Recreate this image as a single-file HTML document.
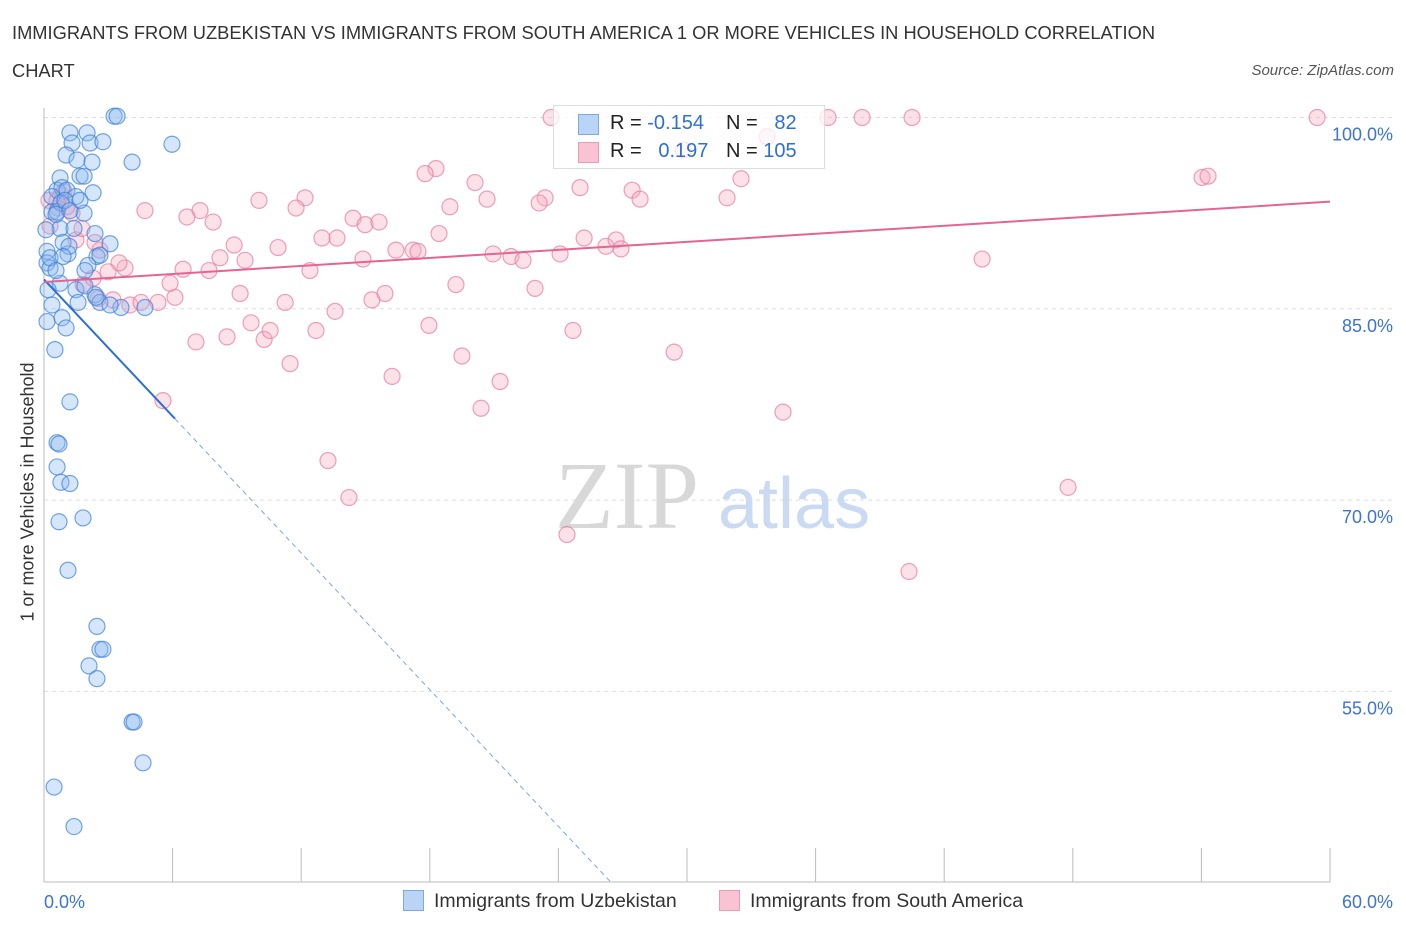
<!DOCTYPE html>
<html><head><meta charset="utf-8"><style>
body{margin:0;background:#fff;font-family:"Liberation Sans",sans-serif;}
#wrap{position:relative;width:1406px;height:930px;overflow:hidden;}
.t{position:absolute;white-space:nowrap;}
</style></head><body>
<div id="wrap">
<div class="t" style="left:12px;top:14px;font-size:18.3px;color:#333;line-height:38px;width:1180px;white-space:normal">IMMIGRANTS FROM UZBEKISTAN VS IMMIGRANTS FROM SOUTH AMERICA 1 OR MORE VEHICLES IN HOUSEHOLD CORRELATION CHART</div>
<div class="t" style="right:12px;top:62px;font-size:15px;font-style:italic;color:#555">Source: ZipAtlas.com</div>
<div class="t" style="left:28px;top:492px;font-size:18px;color:#333;transform:translate(-50%,-50%) rotate(-90deg)">1 or more Vehicles in Household</div>
<svg id="svg" width="1406" height="930" style="position:absolute;left:0;top:0"></svg>
</div>
<script>
const xTicks=[0,60];
const yTicks=[100,85,70,55];
const blueX=[3.27,3.41,1.21,2.01,1.31,2.15,2.75,1.03,1.54,2.24,4.11,5.97,1.68,1.87,0.75,0.61,0.84,1.07,1.49,0.37,0.37,0.61,1.87,0.75,1.40,2.38,3.08,0.89,0.14,0.14,0.28,1.12,2.47,2.61,2.05,1.91,2.38,0.75,1.49,0.37,1.59,3.59,4.71,0.14,0.84,1.03,0.51,1.21,0.61,0.70,0.61,0.79,1.21,0.70,1.82,1.12,2.47,2.61,2.75,2.10,2.47,4.11,4.20,4.62,0.47,1.40,0.79,0.56,0.98,1.17,0.28,2.61,0.19,1.68,0.09,3.08,2.43,1.91,1.21,2.29,0.89,0.56];
const blueY=[100.1,100.1,98.8,98.8,98.0,98.0,98.1,97.06,96.67,96.5,96.5,97.9,95.4,95.4,95.26,94.3,94.5,94.3,93.8,93.8,92.6,92.6,92.5,91.3,91.3,90.9,90.1,90.2,89.5,88.6,88.2,89.3,89.1,89.2,88.4,88.0,86.1,87.0,86.5,85.3,85.5,85.1,85.1,84.0,84.3,83.5,81.8,77.7,74.5,74.4,72.6,71.4,71.3,68.3,68.6,64.5,60.1,58.3,58.3,57.0,56.0,52.6,52.6,49.4,47.5,44.4,93.3,92.4,93.5,89.9,89.0,85.5,86.5,93.5,91.2,85.3,85.9,86.8,92.7,94.1,89.1,88.0];
const pinkX=[23.66,36.58,38.17,40.50,59.40,33.74,29.82,18.29,17.78,20.11,25.01,27.44,32.52,54.03,54.31,20.67,27.81,31.87,23.38,23.10,10.03,12.18,11.76,4.71,7.28,6.67,7.89,18.94,14.42,14.98,15.63,13.67,12.97,8.87,8.21,9.38,10.92,18.43,25.20,26.22,26.69,26.92,20.95,21.79,22.35,24.08,16.42,17.22,17.45,14.88,6.49,3.78,3.50,7.70,12.41,2.61,1.49,1.77,1.31,1.07,0.79,0.23,0.65,0.28,1.82,2.29,2.52,3.22,4.01,4.53,5.32,6.11,9.15,11.25,13.58,15.30,15.91,19.22,22.91,9.66,7.09,8.54,10.27,10.55,12.69,17.96,24.68,29.40,11.48,19.50,16.24,21.28,20.39,34.48,5.55,13.25,14.23,24.40,40.36,47.78,43.77,5.88,2.99,2.38,0.61,0.93];
const pinkY=[100,100,100,100,100,98.5,97.45,96.0,95.6,94.9,94.5,94.3,95.2,95.3,95.4,93.6,93.6,93.7,93.7,93.3,93.5,93.7,92.9,92.7,92.7,92.2,91.8,93.0,92.1,91.6,91.8,90.55,90.55,90.0,89.0,88.8,89.8,90.9,90.55,89.9,90.4,89.7,89.3,89.1,88.8,89.3,89.6,89.6,89.5,88.9,88.1,88.2,88.6,88.0,88.0,89.6,90.4,91.3,92.5,93.0,93.9,93.5,92.9,91.5,86.9,87.4,85.8,85.7,85.3,85.5,85.5,85.9,86.2,85.5,84.8,85.7,86.2,86.9,86.6,83.9,82.4,82.8,82.6,83.3,83.3,83.7,83.3,81.6,80.7,81.3,79.7,79.3,77.2,76.9,77.8,73.1,70.2,67.3,64.4,71.0,88.9,87.0,87.9,90.2,93.5,94.2];
const blueTrend=[87.3,-1.787];
const pinkTrend=[87.1,0.105];
const blueSolidEnd=6.11, blueDashEnd=26.41;

const X0=44,X1=1330,Y100=117.5,PX15=191.3;
const sx=v=>X0+(v-0)/60*(X1-X0);
const sy=v=>Y100+(100-v)/15*PX15;
const NS="http://www.w3.org/2000/svg";
const svg=document.getElementById('svg');
function mk(tag,attrs,parent){const e=document.createElementNS(NS,tag);for(const k in attrs)e.setAttribute(k,attrs[k]);(parent||svg).appendChild(e);return e;}
yTicks.forEach(t=>{
 const l=mk('line',{x1:X0,x2:1392,y1:sy(t),y2:sy(t),stroke:'#dddddd','stroke-dasharray':'4,4'});
 
 
 const tx=mk('text',{x:1393,y:sy(t)+23,'text-anchor':'end','font-size':18,fill:'#3b73d6','font-family':'Liberation Sans, sans-serif'});
 tx.textContent=t.toFixed(1)+'%';
 
 
});
const ax=mk('line',{x1:X0,x2:X0,y1:108,y2:882,stroke:'#bbb'});


const bx=mk('line',{x1:X0,x2:1330,y1:882,y2:882,stroke:'#bbb'});


for(let i=0;i<=10;i++){const x=X0+i*(X1-X0)/10;const tk=mk('line',{x1:x,x2:x,y1:848,y2:882,stroke:'#bbb'});
 
 }
xTicks.forEach((t,i)=>{const tx=mk('text',{x:i==0?sx(t):1393,y:908,'text-anchor':i==0?'start':'end','font-size':18,fill:'#3b73d6','font-family':'Liberation Sans, sans-serif'});
 tx.textContent=t.toFixed(1)+'%';
 
 });
const wm=mk('text',{x:555,y:528,'font-size':96,fill:'#d8d8d8','font-family':'Liberation Serif, serif'});wm.textContent='ZIP';


const wm2=mk('text',{x:718,y:528,'font-size':72,fill:'#c9daf2','font-family':'Liberation Sans, sans-serif'});wm2.textContent='atlas';


function pts(xs,ys,fill,stroke,name){xs.forEach((v,i)=>{const c=mk('circle',{cx:sx(v),cy:sy(ys[i]),r:8,fill:fill,'fill-opacity':0.35,stroke:stroke,'stroke-opacity':0.7,'stroke-width':1.2});
 
 });}
pts(pinkX,pinkY,'#f7a8c0','#e8799c','point-south-america');
pts(blueX,blueY,'#8ab8f0','#3a7fd9','point-uzbekistan');
const f=(tr,x)=>tr[0]+tr[1]*x;
const bl=mk('line',{x1:sx(0),y1:sy(f(blueTrend,0)),x2:sx(blueSolidEnd),y2:sy(f(blueTrend,blueSolidEnd)),stroke:'#2a6fd6','stroke-width':2});


const bd=mk('line',{x1:sx(blueSolidEnd),y1:sy(f(blueTrend,blueSolidEnd)),x2:sx(blueDashEnd),y2:sy(f(blueTrend,blueDashEnd)),stroke:'#7aa6e0','stroke-width':1,'stroke-dasharray':'5,4'});


const pl=mk('line',{x1:sx(0),y1:sy(f(pinkTrend,0)),x2:sx(60),y2:sy(f(pinkTrend,60)),stroke:'#e36590','stroke-width':2});


</script>
<div class="t" style="left:553px;top:105px;width:270px;height:62px;background:rgba(255,255,255,0.75);border:1px solid #ddd;font-size:20px;color:#222">
 <div style="position:absolute;left:24px;top:8px;width:19px;height:19px;background:#b9d4f5;border:1px solid #7aa8e8"></div>
 <div style="position:absolute;left:24px;top:36px;width:19px;height:19px;background:#f9c3d3;border:1px solid #ee9ab4"></div>
 <div style="position:absolute;left:56px;top:6px">R = <span style="color:#2f6fd3">-0.154</span></div>
 <div style="position:absolute;left:172px;top:6px">N = &nbsp;&nbsp;<span style="color:#2f6fd3">82</span></div>
 <div style="position:absolute;left:56px;top:34px">R = &nbsp;&nbsp;<span style="color:#2f6fd3">0.197</span></div>
 <div style="position:absolute;left:172px;top:34px">N = <span style="color:#2f6fd3">105</span></div>
</div>
<div class="t" style="left:403px;top:890px;font-size:19.5px;color:#333"><span style="display:inline-block;width:19px;height:19px;background:#b9d4f5;border:1px solid #7aa8e8;vertical-align:-4px;margin-right:10px"></span>Immigrants from Uzbekistan</div>
<div class="t" style="left:719px;top:890px;font-size:19.5px;color:#333"><span style="display:inline-block;width:19px;height:19px;background:#f9c3d3;border:1px solid #ee9ab4;vertical-align:-4px;margin-right:10px"></span>Immigrants from South America</div>
</body></html>
